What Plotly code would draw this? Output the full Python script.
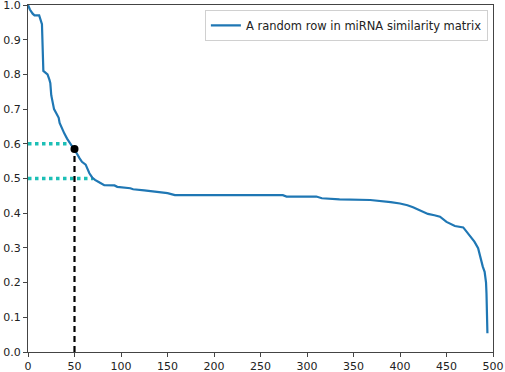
import plotly.graph_objects as go

# Curve (index in sorted row, similarity value)
row_index = [0, 2, 5, 7, 12, 15, 16.5, 19, 21, 23, 24, 25, 26, 28, 31, 33, 34, 37, 39, 42,
             45, 47, 50, 53, 55.5, 58, 62, 64, 66, 69, 72, 76, 82, 93, 96, 110, 113, 125,
             138, 150, 158, 274, 278, 310, 316, 335, 368, 378, 390, 400, 408, 414, 422,
             430, 437, 443, 450, 455, 459, 468, 472, 475, 480, 484, 486, 489, 491, 492.5,
             493, 494]
similarity = [1.0, 0.987, 0.975, 0.97, 0.97, 0.945, 0.81, 0.805, 0.80, 0.785, 0.775, 0.74,
              0.726, 0.70, 0.685, 0.675, 0.66, 0.64, 0.63, 0.615, 0.603, 0.595, 0.585, 0.57,
              0.558, 0.548, 0.54, 0.525, 0.515, 0.503, 0.496, 0.49, 0.481, 0.48, 0.476,
              0.472, 0.469, 0.466, 0.462, 0.458, 0.452, 0.452, 0.448, 0.448, 0.443, 0.44,
              0.438, 0.436, 0.432, 0.428, 0.423, 0.417, 0.408, 0.398, 0.394, 0.39, 0.375,
              0.368, 0.363, 0.359, 0.345, 0.332, 0.318, 0.299, 0.275, 0.246, 0.231, 0.2,
              0.169, 0.054]

series_name = "A random row in miRNA similarity matrix"

# Threshold guide lines
thresh_levels = [0.6, 0.5]
thresh_ends = [45, 70]
cut_x = 50
cut_y = 0.585

x_ticks = [0, 50, 100, 150, 200, 250, 300, 350, 400, 450, 500]
y_ticks = [0.0, 0.1, 0.2, 0.3, 0.4, 0.5, 0.6, 0.7, 0.8, 0.9, 1.0]

fig = go.Figure()
for lvl, end in zip(thresh_levels, thresh_ends):
    fig.add_trace(go.Scatter(x=[0, end], y=[lvl, lvl], mode="lines",
                             line=dict(color="#1cbfb6", width=3.5, dash="dot"),
                             showlegend=False, hoverinfo="skip"))
fig.add_trace(go.Scatter(x=[cut_x, cut_x], y=[0, cut_y], mode="lines",
                         line=dict(color="black", width=2.2, dash="6px,4px"),
                         showlegend=False, hoverinfo="skip"))
fig.add_trace(go.Scatter(x=row_index, y=similarity, mode="lines", name=series_name,
                         line=dict(color="#1f77b4", width=2.2)))
fig.add_trace(go.Scatter(x=[cut_x], y=[cut_y], mode="markers",
                         marker=dict(color="black", size=8), showlegend=False))

axis_common = dict(showgrid=False, zeroline=False, showline=True, mirror=True,
                   automargin=False, ticklabeloverflow="allow",
                   linecolor="#444", linewidth=1.2, ticks="outside", ticklen=4,
                   tickcolor="#444", tickfont=dict(family="DejaVu Sans", size=11, color="#222"))
fig.update_xaxes(range=[0, 500], tickvals=x_ticks, ticktext=[str(v) for v in x_ticks],
                 **axis_common)
fig.update_yaxes(range=[0, 1.0], tickvals=y_ticks, ticktext=[f"{v:.1f}" for v in y_ticks],
                 **axis_common)
fig.update_layout(
    width=505, height=372,
    margin=dict(l=28, r=12, t=5, b=20, autoexpand=False),
    plot_bgcolor="white", paper_bgcolor="white",
    font=dict(family="DejaVu Sans", size=11, color="#222"),
    legend=dict(x=0.989, y=0.986, xanchor="right", yanchor="top",
                bgcolor="white", bordercolor="#d0d0d0", borderwidth=1,
                itemwidth=30, font=dict(size=11.5)),
)
fig.write_html("out.html", config={"displayModeBar": False},
               post_script="document.body.style.margin='0';document.body.style.overflow='hidden';")
